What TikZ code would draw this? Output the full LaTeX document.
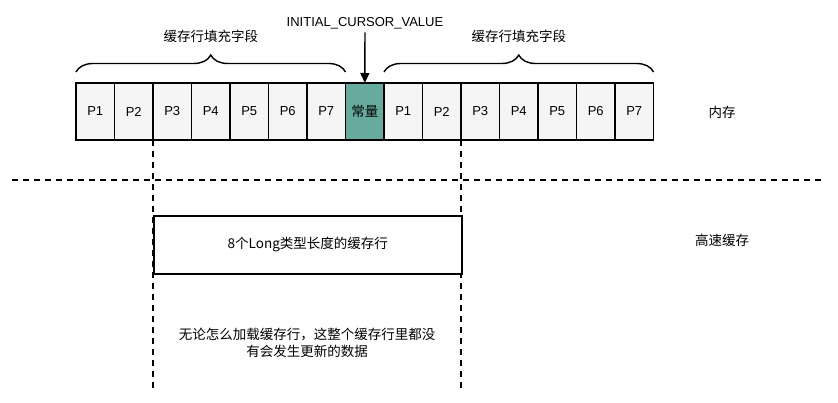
\documentclass[tikz,border=0pt]{standalone}
\usepackage{fontspec}
\setmainfont{Liberation Sans}
\newfontfamily\cjk{Noto Sans CJK SC}
\usepackage{tikz}
\usetikzlibrary{positioning,arrows.meta,calc,decorations.pathreplacing}
\definecolor{ink}{HTML}{000000}
\definecolor{cellfill}{HTML}{F5F5F5}
\definecolor{constfill}{HTML}{67AB9F}

\begin{document}
\begin{tikzpicture}[x=1pt,y=1pt,
    font=\fontsize{13}{16}\selectfont,
    cell/.style={draw=ink, line width=1.6pt, fill=cellfill, minimum width=38.5pt,
                 minimum height=57pt, inner sep=0pt, outer sep=0pt},
    padbrace/.style={draw=ink, line width=1.4pt, decorate,
                     decoration={brace, amplitude=17pt}},
    dashline/.style={draw=ink, line width=1.5pt, dash pattern=on 6pt off 5pt},
    note/.style={font=\cjk\fontsize{13.5}{17}\selectfont, align=center}]
  \useasboundingbox (0,0) rectangle (838,402);

  % memory row: padding, constant, padding
  \node[cell] (l1) at (95.25,290.5) {P1};
  \foreach \i [remember=\i as \last (initially 1)] in {2,...,7}
    \node[cell, right=0pt of l\last] (l\i) {P\i};
  \node[cell, fill=constfill, right=0pt of l7,
        font=\cjk\fontsize{13.5}{16}\selectfont] (const) {常量};
  \node[cell, right=0pt of const] (r1) {P1};
  \foreach \i [remember=\i as \last (initially 1)] in {2,...,7}
    \node[cell, right=0pt of r\last] (r\i) {P\i};

  \node (initval) at (365,379) {INITIAL\_CURSOR\_VALUE};
  \draw[-{Triangle[length=10pt,width=9pt]}, line width=1.4pt] (initval) -- (const);

  \draw[padbrace] ($(l1.north west)+(0,11)$) --
    node[above=25pt, note] (padleft) {缓存行填充字段} ($(l7.north east)+(0,11)$);
  \draw[padbrace] ($(r1.north west)+(0,11)$) --
    node[above=25pt, note] (padright) {缓存行填充字段} ($(r7.north east)+(0,11)$);

  % memory / cache border
  \coordinate (floor) at (0,12);
  \coordinate (sepL) at (12,222);
  \coordinate (sepR) at (822,222);
  \draw[dashline] (sepL) -- (sepR);
  \draw[dashline] (l3.south west) -- (l3.south west |- floor);
  \draw[dashline] (r3.south west) -- (r3.south west |- floor);

  \node[draw=ink, line width=1.6pt, fill=white, anchor=north west,
        minimum width=308pt, minimum height=58pt, note]
        (cacheline) at (l3.south west |- 0,187) {8个Long类型长度的缓存行};

  \node[note] (mem) at (722,290) {内存};
  \node[note] (cache) at (722,162) {高速缓存};
  \node[note] (remark) at (307,59) {无论怎么加载缓存行，这整个缓存行里都没\\有会发生更新的数据};
\end{tikzpicture}
\end{document}
